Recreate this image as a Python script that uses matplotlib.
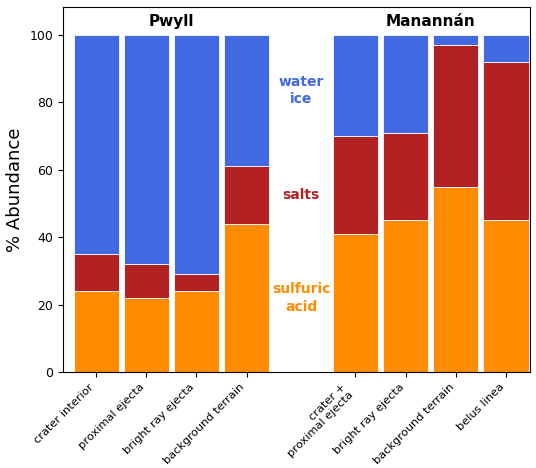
import numpy as np
import matplotlib.pyplot as plt

# site labels for the two craters
pwyllSites = ["crater interior", "proximal ejecta", "bright ray ejecta", "background terrain"]
manSites = ["crater +\nproximal ejecta", "bright ray ejecta", "background terrain", "belus linea"]

# percent abundance of each component (acid, salts, ice) per site
acid = [24, 22, 24, 44, 41, 45, 55, 45]
salts = [11, 10, 5, 17, 29, 26, 42, 47]
ice = [65, 68, 71, 39, 30, 29, 3, 8]

orange = "#ff8c00"
red = "#b22222"
blue = "#4169e1"

xPos = np.concatenate([np.arange(4), np.arange(4) + 5.17])
acid = np.array(acid)
salts = np.array(salts)
ice = np.array(ice)

fig = plt.figure(figsize=(5.36, 4.68), dpi=100)
ax = fig.add_axes([0.1175, 0.205, 0.8715, 0.78])

w = 0.9
ax.bar(xPos, acid, w, color=orange, edgecolor="white", linewidth=0.6)
ax.bar(xPos, salts, w, bottom=acid, color=red, edgecolor="white", linewidth=0.6)
ax.bar(xPos, ice, w, bottom=acid + salts, color=blue, edgecolor="white", linewidth=0.6)

ax.set_xticks(xPos)
ax.set_xticklabels(pwyllSites + manSites, rotation=45, ha="right", fontsize=8.2)
ax.set_xlim(-0.66, 8.65)
ax.set_ylim(0, 108.3)
ax.set_yticks([0, 20, 40, 60, 80, 100])
ax.tick_params(axis="y", labelsize=9)
ax.set_ylabel("% Abundance", fontsize=13)

# group names above each set of bars
ax.text(xPos[:4].mean(), 104, "Pwyll", ha="center", va="center",
        fontsize=11, fontweight="bold")
ax.text(xPos[4:].mean(), 104, "Manannán", ha="center", va="center",
        fontsize=11, fontweight="bold")

# component labels in the gap
midX = (xPos[3] + xPos[4]) / 2
ax.text(midX, 83.5, "water\nice", color=blue, ha="center", va="center",
        fontsize=10, fontweight="bold", linespacing=1.3)
ax.text(midX, 52.5, "salts", color=red, ha="center", va="center",
        fontsize=10, fontweight="bold")
ax.text(midX, 22, "sulfuric\nacid", color=orange, ha="center", va="center",
        fontsize=10, fontweight="bold", linespacing=1.3)

fig.savefig("out.png", dpi=100)
